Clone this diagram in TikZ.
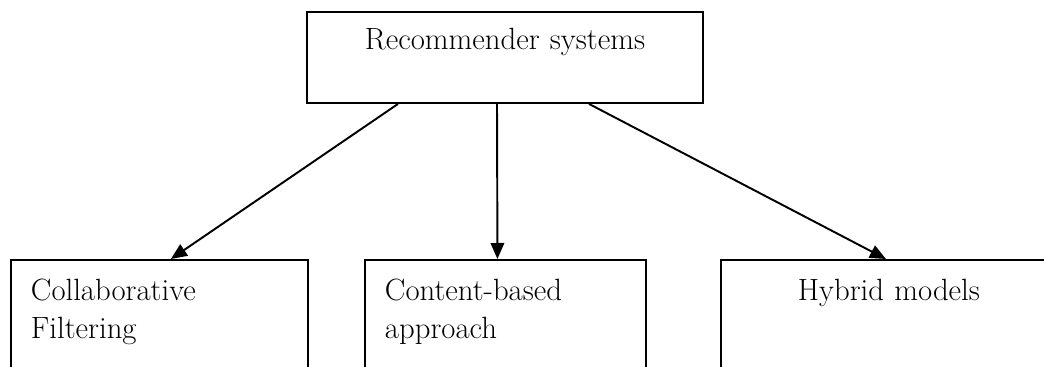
\documentclass[tikz,border=0pt]{standalone}
\usepackage{tikz}
\usetikzlibrary{arrows.meta}

\begin{document}
\begin{tikzpicture}[x=0.02cm,y=-0.02cm,>={Triangle[length=3.2mm,width=2.7mm]},
  box/.style={draw,line width=1.1pt,inner ysep=0pt,font=\fontsize{17.5}{21.6}\selectfont},
  leaf/.style={box,anchor=north west,inner xsep=0.4cm,text height=0.82cm,text depth=3cm}]
\useasboundingbox (0,0) rectangle (1044,367);
\clip (0,0) rectangle (1044,367);
\node (rec) [box,anchor=north,inner xsep=0pt,text width=7.92cm,align=center,
  text height=0.76cm,text depth=1.06cm] at (505,11) {Recommender systems};
\node (cf) [leaf,text width=5.14cm,align=left] at (10,259) {Collaborative\\Filtering};
\node (cb) [leaf,text width=4.82cm,align=left] at (364,259) {Content-based\\approach};
\node (hy) [leaf,text width=5.92cm,align=center] at (720,259) {Hybrid models};
% one arrow per family of methods
\draw[->,line width=1.1pt] ([shift={(-107,0)}]rec.south) -- ([shift={(11.5,0)}]cf.north);
\draw[->,line width=1.1pt] ([shift={(-8,0)}]rec.south) -- ([shift={(-8,0)}]cb.north);
\draw[->,line width=1.1pt] ([shift={(84,0)}]rec.south) -- ([shift={(-3,0)}]hy.north);
\end{tikzpicture}
\end{document}
